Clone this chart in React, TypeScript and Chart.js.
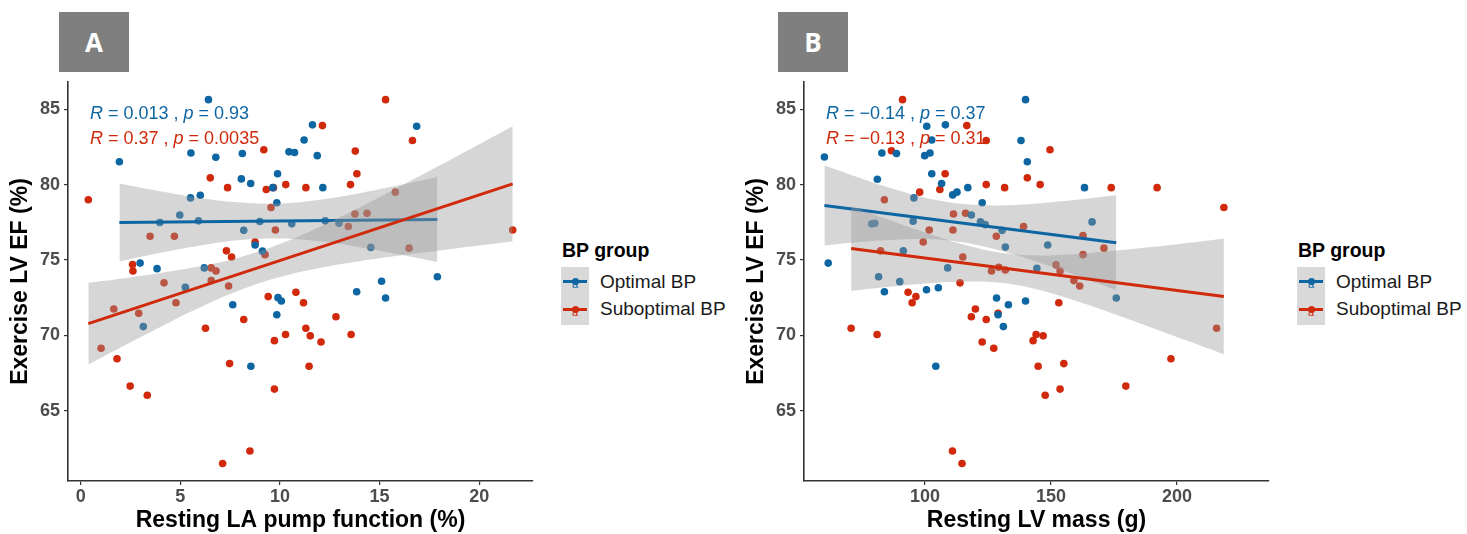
import React, { useEffect, useRef } from "react";
import { Chart, registerables } from "chart.js";
Chart.register(...registerables);

const BLUE = "#0d66a2";
const RED = "#d0290b";
const BAND = "rgba(153,153,153,0.4)";
const FONT = "'Liberation Sans', Arial, Helvetica, sans-serif";

// ---------- shared ----------
const yTicks = [65, 70, 75, 80, 85];
const yMin = 60.36;
const yMax = 86.8;

// ---------- Panel A: Resting LA pump function (%) ----------
const xTicksA = [0, 5, 10, 15, 20];
const optA_x = [6.41, 11.63, 16.86, 11.21, 5.53, 8.11, 10.45, 10.73, 1.94, 6.78, 11.87, 9.88, 8.06, 8.53, 9.64, 12.15, 6.0, 5.51, 9.84, 4.97, 5.91, 3.97, 8.99, 12.27, 10.59, 12.96, 8.18, 14.56, 8.75, 9.12, 2.98, 3.83, 6.2, 5.25, 17.9, 15.1, 13.85, 15.3, 7.63, 9.9, 10.07, 9.84, 3.14, 8.54];
const optA_y = [85.63, 83.96, 83.87, 82.96, 82.1, 82.06, 82.17, 82.13, 81.52, 81.81, 81.92, 80.72, 80.38, 80.07, 79.8, 79.8, 79.3, 79.12, 78.8, 77.99, 77.6, 77.49, 77.56, 77.6, 77.4, 77.44, 76.97, 75.84, 76.0, 75.59, 74.8, 74.43, 74.48, 73.19, 73.89, 73.6, 72.9, 72.49, 72.04, 72.51, 72.29, 71.38, 70.59, 67.96];
const subA_x = [15.3, 12.13, 16.65, 9.19, 13.78, 6.5, 13.86, 7.37, 9.31, 9.67, 10.29, 11.3, 13.54, 0.38, 15.79, 9.55, 13.76, 14.37, 9.77, 13.43, 21.68, 3.48, 4.7, 8.75, 9.25, 7.31, 7.57, 16.48, 2.6, 2.62, 6.55, 6.79, 4.18, 6.55, 7.42, 1.66, 4.78, 2.91, 9.41, 10.8, 11.18, 12.81, 8.18, 6.26, 11.3, 11.52, 10.28, 13.57, 9.72, 12.06, 1.02, 1.82, 7.47, 11.46, 2.48, 9.72, 3.34, 8.49, 7.12];
const subA_y = [85.63, 83.91, 82.92, 82.31, 82.22, 80.45, 80.72, 79.8, 79.68, 79.8, 80.0, 79.8, 80.0, 79.0, 79.5, 78.48, 78.05, 78.1, 76.99, 77.22, 76.99, 76.58, 76.58, 76.2, 75.36, 75.61, 75.2, 75.79, 74.71, 74.28, 74.48, 74.28, 73.49, 73.64, 73.28, 71.76, 72.17, 71.47, 72.58, 72.87, 72.17, 71.24, 71.06, 70.48, 70.48, 69.98, 70.07, 70.07, 69.66, 69.57, 69.16, 68.46, 68.14, 67.96, 66.65, 66.45, 66.04, 62.35, 61.52];
const optA_fit_x = [1.94, 17.9];
const optA_fit_y = [77.49, 77.69];
const subA_fit_x = [0.38, 21.68];
const subA_fit_y = [70.79, 80.05];
const optA_band_x = [1.94, 4, 6, 8, 10, 12, 14, 16, 17.9];
const optA_band_hi = [80.08, 79.56, 79.11, 78.81, 78.75, 79.0, 79.43, 79.97, 80.51];
const optA_band_lo = [74.9, 75.48, 75.97, 76.33, 76.43, 76.24, 75.85, 75.37, 74.87];
const subA_band_x = [0.38, 2, 4, 6, 8, 10, 12, 14, 16, 18, 20, 21.68];
const subA_band_hi = [73.5, 73.77, 74.15, 74.59, 75.19, 76.06, 77.2, 78.5, 79.86, 81.26, 82.68, 83.87];
const subA_band_lo = [68.08, 69.21, 70.57, 71.87, 73.01, 73.88, 74.48, 74.92, 75.3, 75.64, 75.96, 76.23];

// ---------- Panel B: Resting LV mass (g) ----------
const xTicksB = [100, 150, 200];
const optB_x = [139.9, 100.7, 108.1, 138.1, 102.7, 82.9, 88.7, 99.9, 102.0, 60.1, 140.6, 81.1, 102.7, 106.6, 111.0, 112.7, 117.0, 163.3, 95.6, 122.7, 118.4, 78.9, 80.1, 95.3, 122.0, 123.9, 130.6, 166.3, 148.7, 131.9, 91.4, 61.6, 109.0, 144.4, 81.6, 90.0, 83.9, 100.6, 105.3, 128.4, 133.1, 139.9, 175.9, 129.0, 131.1, 104.3];
const optB_y = [85.63, 83.87, 83.96, 82.92, 82.96, 82.1, 82.06, 81.92, 82.1, 81.83, 81.52, 80.36, 80.72, 80.07, 79.32, 79.5, 79.8, 79.8, 79.12, 78.8, 77.99, 77.4, 77.44, 77.58, 77.53, 77.35, 76.97, 77.53, 76.0, 75.86, 75.61, 74.8, 74.48, 74.46, 73.89, 73.57, 72.9, 73.03, 73.17, 72.49, 72.04, 72.29, 72.49, 71.38, 70.59, 67.96];
const subB_x = [91.1, 116.6, 124.3, 86.7, 149.6, 108.0, 140.6, 124.3, 145.7, 105.9, 131.6, 173.9, 192.1, 97.9, 83.9, 218.6, 111.3, 116.1, 139.1, 101.7, 111.1, 128.3, 162.7, 99.3, 171.0, 82.4, 115.0, 162.7, 152.0, 129.3, 131.9, 126.4, 153.6, 113.9, 159.1, 161.4, 93.3, 96.4, 94.9, 153.1, 120.0, 118.4, 129.0, 124.3, 70.7, 215.7, 81.0, 144.1, 146.9, 142.9, 122.7, 127.3, 197.6, 155.1, 144.9, 179.7, 153.6, 147.7, 110.9, 114.7];
const subB_y = [85.63, 83.91, 82.92, 82.24, 82.31, 80.72, 80.45, 80.0, 80.0, 79.68, 79.8, 79.8, 79.8, 79.5, 79.0, 78.48, 78.05, 78.1, 77.22, 76.99, 76.99, 76.58, 76.63, 76.2, 75.79, 75.61, 75.2, 75.36, 74.68, 74.52, 74.34, 74.28, 74.28, 73.49, 73.64, 73.28, 72.87, 72.58, 72.17, 72.17, 71.76, 71.24, 71.47, 71.06, 70.48, 70.48, 70.07, 70.07, 69.98, 69.66, 69.57, 69.16, 68.46, 68.14, 67.96, 66.65, 66.45, 66.04, 62.35, 61.52];
const optB_fit_x = [60.1, 175.9];
const optB_fit_y = [78.62, 76.15];
const subB_fit_x = [70.7, 218.6];
const subB_fit_y = [75.77, 72.58];
const optB_band_x = [60.1, 75, 90, 105, 120, 135, 150, 165, 175.9];
const optB_band_hi = [81.28, 80.39, 79.59, 78.96, 78.66, 78.65, 78.83, 79.08, 79.29];
const optB_band_lo = [75.96, 76.21, 76.37, 76.36, 76.02, 75.39, 74.57, 73.68, 73.01];
const subB_band_x = [70.7, 85, 100, 115, 130, 145, 160, 175, 190, 205, 218.6];
const subB_band_hi = [78.57, 77.7, 76.83, 76.05, 75.49, 75.31, 75.4, 75.61, 75.86, 76.14, 76.41];
const subB_band_lo = [72.97, 73.22, 73.45, 73.57, 73.49, 73.03, 72.28, 71.43, 70.52, 69.6, 68.75];

const pts = (xs: number[], ys: number[]) => xs.map((x, i) => ({ x, y: ys[i] }));

type PanelProps = {
  offset: number;
  xMin: number;
  xMax: number;
  xTicks: number[];
  xTitle: string;
  opt: [number[], number[]];
  sub: [number[], number[]];
  optFit: [number[], number[]];
  subFit: [number[], number[]];
  optBand: [number[], number[], number[]];
  subBand: [number[], number[], number[]];
  letter: string;
  letterLeft: number;
  optLabel: React.ReactNode;
  subLabel: React.ReactNode;
};

function Panel(p: PanelProps) {
  const ref = useRef<HTMLCanvasElement>(null);
  useEffect(() => {
    const bandDs = (xs: number[], ys: number[], fill: any, order: number) => ({
      type: "line" as const,
      data: pts(xs, ys),
      showLine: true,
      borderWidth: 0,
      borderColor: "transparent",
      backgroundColor: BAND,
      pointRadius: 0,
      fill,
      tension: 0.4,
      order,
    });
    const lineDs = (xs: number[], ys: number[], color: string, order: number) => ({
      type: "line" as const,
      data: pts(xs, ys),
      showLine: true,
      borderWidth: 3,
      borderColor: color,
      pointRadius: 0,
      fill: false,
      order,
    });
    const chart = new Chart(ref.current!, {
      type: "scatter",
      data: {
        datasets: [
          lineDs(p.subFit[0], p.subFit[1], RED, 0) as any,
          bandDs(p.subBand[0], p.subBand[1], "+1", 1),
          bandDs(p.subBand[0], p.subBand[2], false, 1),
          lineDs(p.optFit[0], p.optFit[1], BLUE, 2),
          bandDs(p.optBand[0], p.optBand[1], "+1", 3),
          bandDs(p.optBand[0], p.optBand[2], false, 3),
          { data: pts(p.opt[0], p.opt[1]), backgroundColor: BLUE, borderWidth: 0, pointRadius: 3.8, order: 4 },
          { data: pts(p.sub[0], p.sub[1]), backgroundColor: RED, borderWidth: 0, pointRadius: 3.8, order: 5 },
        ],
      },
      options: {
        animation: false,
        responsive: false,
        layout: { padding: { left: 0, right: 7, top: 82, bottom: 0 } },
        plugins: { legend: { display: false }, tooltip: { enabled: false } },
        scales: {
          x: {
            type: "linear",
            min: p.xMin,
            max: p.xMax,
            afterBuildTicks: (s: any) => {
              s.ticks = p.xTicks.map((v) => ({ value: v }));
            },
            afterFit: (s: any) => {
              s.height = 53;
            },
            grid: { display: true, drawOnChartArea: false, drawTicks: true, tickLength: 4, color: "#333", lineWidth: 1.2 },
            border: { display: true, color: "#333", width: 1.6 },
            ticks: {
              color: "#4d4d4d",
              font: { family: FONT, size: 18, weight: "bold" },
              padding: 1,
              maxRotation: 0,
              autoSkip: false,
              callback: (v: any) => String(v),
            },
            title: {
              display: true,
              text: p.xTitle,
              color: "#000",
              font: { family: FONT, size: 23, weight: "bold" },
              padding: { top: 0, bottom: 0 },
            },
          },
          y: {
            type: "linear",
            min: yMin,
            max: yMax,
            afterBuildTicks: (s: any) => {
              s.ticks = yTicks.map((v) => ({ value: v }));
            },
            afterFit: (s: any) => {
              s.width = 68;
            },
            grid: { display: true, drawOnChartArea: false, drawTicks: true, tickLength: 4, color: "#333", lineWidth: 1.2 },
            border: { display: true, color: "#333", width: 1.6 },
            ticks: {
              color: "#4d4d4d",
              font: { family: FONT, size: 18, weight: "bold" },
              padding: 4,
              callback: (v: any) => String(v),
            },
            title: {
              display: true,
              text: "Exercise LV EF (%)",
              color: "#000",
              font: { family: FONT, size: 23, weight: "bold" },
              padding: { top: 7, bottom: 0 },
            },
          },
        },
      } as any,
    });
    return () => chart.destroy();
  }, []);

  const o = p.offset;
  const keyLine = (color: string, cy: number) => (
    <>
      <div style={{ position: "absolute", left: o + 563, top: cy - 1.5, width: 24, height: 3, background: color }} />
      <div style={{ position: "absolute", left: o + 571.5, top: cy - 3.5, width: 7, height: 7, borderRadius: "50%", background: color }} />
      <div style={{ position: "absolute", left: o + 570, top: cy - 3, width: 10, textAlign: "center", fontFamily: FONT, fontSize: 11, lineHeight: "12px", color }}>a</div>
    </>
  );
  return (
    <>
      <canvas
        ref={ref}
        width={540}
        height={534}
        style={{ position: "absolute", left: o, top: 0, width: 540, height: 534 }}
      />
      <div
        style={{
          position: "absolute",
          left: p.letterLeft,
          top: 12,
          width: 70,
          height: 60,
          background: "#7f7f7f",
          color: "#fff",
          fontFamily: "'Open Sans', Arial, sans-serif",
          fontWeight: 700,
          fontSize: 26,
          lineHeight: "60px",
          textAlign: "center",
        }}
      >
        {p.letter}
      </div>
      <div style={{ position: "absolute", left: o + 90, top: 103, fontFamily: FONT, fontSize: 18, lineHeight: "20px", color: BLUE, whiteSpace: "nowrap" }}>
        {p.optLabel}
      </div>
      <div style={{ position: "absolute", left: o + 90, top: 128, fontFamily: FONT, fontSize: 18, lineHeight: "20px", color: RED, whiteSpace: "nowrap" }}>
        {p.subLabel}
      </div>
      <div style={{ position: "absolute", left: o + 562, top: 239, fontFamily: FONT, fontWeight: 700, fontSize: 19.5, lineHeight: "22px", color: "#000", whiteSpace: "nowrap" }}>
        BP group
      </div>
      <div style={{ position: "absolute", left: o + 561, top: 267, width: 28, height: 58, background: "#d9d9d9" }} />
      {keyLine(BLUE, 281)}
      {keyLine(RED, 309)}
      <div style={{ position: "absolute", left: o + 600, top: 271, fontFamily: FONT, fontSize: 19, lineHeight: "22px", color: "#1a1a1a", whiteSpace: "nowrap" }}>
        Optimal BP
      </div>
      <div style={{ position: "absolute", left: o + 600, top: 298, fontFamily: FONT, fontSize: 19, lineHeight: "22px", color: "#1a1a1a", whiteSpace: "nowrap" }}>
        Suboptimal BP
      </div>
    </>
  );
}

export default function App() {
  return (
    <div style={{ position: "absolute", left: 0, top: 0, width: 1467, height: 534, background: "#fff", overflow: "hidden" }}>
      <Panel
        offset={0}
        xMin={-0.64}
        xMax={22.7}
        xTicks={xTicksA}
        xTitle="Resting LA pump function (%)"
        opt={[optA_x, optA_y]}
        sub={[subA_x, subA_y]}
        optFit={[optA_fit_x, optA_fit_y]}
        subFit={[subA_fit_x, subA_fit_y]}
        optBand={[optA_band_x, optA_band_hi, optA_band_lo]}
        subBand={[subA_band_x, subA_band_hi, subA_band_lo]}
        letter="A"
        letterLeft={59}
        optLabel={<><i>R</i> = 0.013 , <i>p</i> = 0.93</>}
        subLabel={<><i>R</i> = 0.37 , <i>p</i> = 0.0035</>}
      />
      <Panel
        offset={736}
        xMin={52}
        xMax={236.5}
        xTicks={xTicksB}
        xTitle="Resting LV mass (g)"
        opt={[optB_x, optB_y]}
        sub={[subB_x, subB_y]}
        optFit={[optB_fit_x, optB_fit_y]}
        subFit={[subB_fit_x, subB_fit_y]}
        optBand={[optB_band_x, optB_band_hi, optB_band_lo]}
        subBand={[subB_band_x, subB_band_hi, subB_band_lo]}
        letter="B"
        letterLeft={778}
        optLabel={<><i>R</i> = −0.14 , <i>p</i> = 0.37</>}
        subLabel={<><i>R</i> = −0.13 , <i>p</i> = 0.31</>}
      />
    </div>
  );
}
